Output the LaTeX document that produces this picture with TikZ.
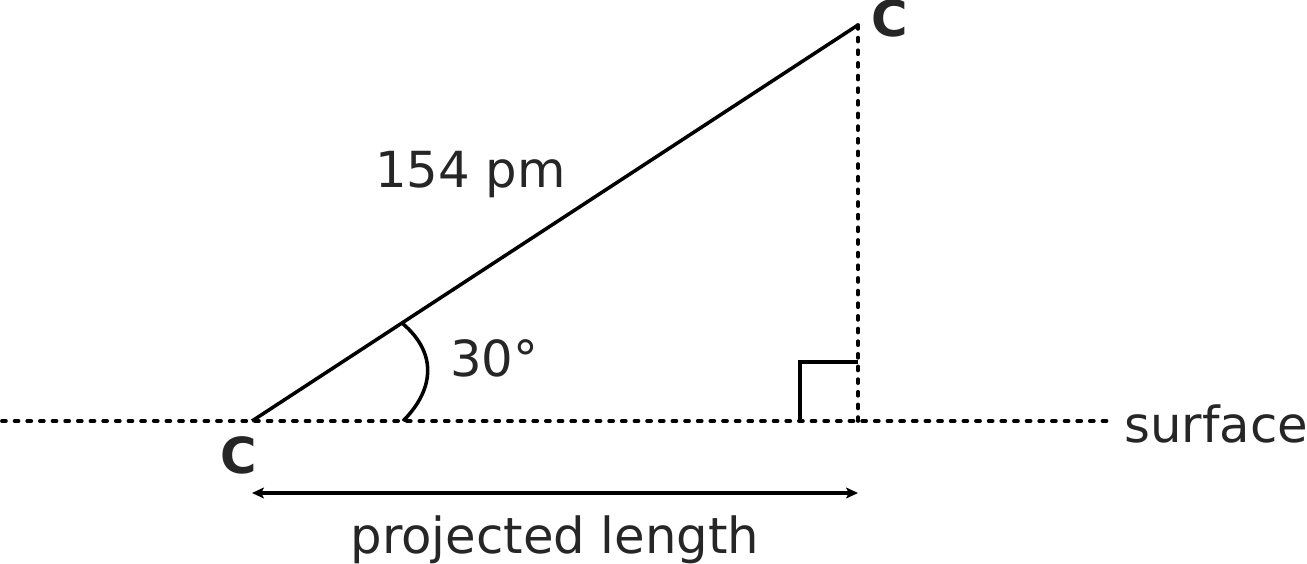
\documentclass[tikz,border=0pt]{standalone}
\usepackage{fontspec}
\setmainfont{DejaVu Sans}
\usepackage{tikz}
\usetikzlibrary{positioning}
\usetikzlibrary{arrows.meta}
\definecolor{txtgray}{HTML}{262626}
\tikzset{
    bond/.style={line width=2pt, black},
    guide/.style={line width=2.2pt, black, line cap=round, dash pattern=on 2.2pt off 5pt},
    lbl/.style={inner sep=0pt, text=txtgray, font=\fontsize{28.3}{34}\selectfont},
    atom/.style={lbl, font=\fontsize{28.3}{34}\selectfont\bfseries},
    span/.style={line width=2pt, {Stealth[length=6.8pt,width=6.2pt,inset=1.5pt]}-{Stealth[length=6.8pt,width=6.2pt,inset=1.5pt]}}
}

\begin{document}
\begin{tikzpicture}[x=0.02cm, y=-0.02cm]
            \useasboundingbox (0,0) rectangle (1307,564);

            \coordinate (c1)   at (252,421);
            \coordinate (c2)   at (858,25);
            \coordinate (foot) at (858,421);
            \coordinate (sl)   at (2,421);
            \coordinate (sr)   at (1108,421);
            \coordinate (al)   at (252,493);
            \coordinate (ar)   at (858,493);
            \coordinate (arcup) at (402,323);
            \coordinate (arclo) at (403,421);
            \coordinate (sqbl)  at (800,421);
            \coordinate (sqtr)  at (858,362);

            \node (cbot) [atom, anchor=base] at (239,473)      {C};
            \node (ctop) [atom, anchor=base west] at (871,37)  {C};
            \node (surf) [lbl, anchor=base west] at (1124,442) {surface};
            \node (bond) [lbl, anchor=base west] at (375,188)  {154 pm};
            \node (ang)  [lbl, anchor=base west] at (450,376)  {30°};
            \node (proj) [lbl, anchor=base] at (555,553)       {projected length};

            \draw [guide] (sl) -- (sr);
            \draw [guide] (c2) -- (foot);
            \draw [bond] (c1) -- (c2);
            \draw [bond] (arcup) .. controls (440,355) and (432,392) .. (arclo);
            \draw [bond] (sqbl) |- (sqtr);
            \draw [span] (al) -- (ar);
        \end{tikzpicture}
\end{document}
